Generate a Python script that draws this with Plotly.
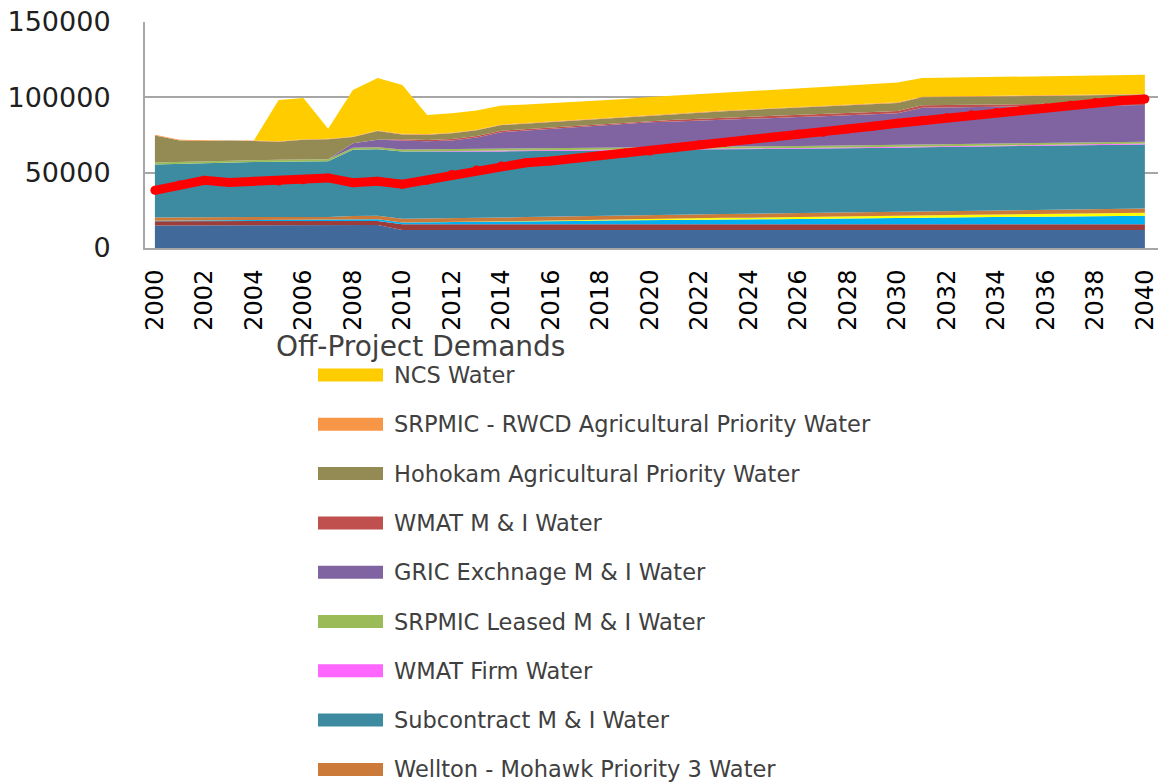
import plotly.graph_objects as go

# Calendar years on the category axis
years = list(range(2000, 2041))

# Off-project demand components (acre-feet), listed bottom of the stack first
other_a = [15000, 15000, 15000, 15000, 15000, 15000, 15000, 15000, 15100, 15200,
           12000, 12000, 12000, 12000, 12000, 12000, 12000, 12000, 12000, 12000,
           12000, 12000, 12000, 12000, 12000, 12000, 12000, 12000, 12000, 12000,
           12000, 12000, 12000, 12000, 12000, 12000, 12000, 12000, 12000, 12000,
           12000]
other_b = [2800, 2800, 2800, 2800, 2800, 2800, 2800, 2800, 2800, 2800,
           3700, 3700, 3700, 3700, 3700, 3700, 3700, 3700, 3700, 3700,
           3700, 3700, 3700, 3700, 3700, 3700, 3700, 3700, 3700, 3700,
           3700, 3700, 3700, 3700, 3700, 3700, 3700, 3700, 3700, 3700,
           3700]
other_c = [300, 350, 400, 450, 500, 550, 600, 650, 900, 1000,
           1200, 1300, 1400, 1500, 1700, 1900, 2100, 2300, 2500, 2700,
           2900, 3000, 3100, 3200, 3300, 3400, 3500, 3600, 3700, 3800,
           3900, 4300, 4500, 4700, 4900, 5000, 5100, 5200, 5400, 5500,
           5700]
other_d = [0, 0, 0, 0, 0, 0, 0, 0, 0, 0,
           0, 0, 0, 200, 300, 400, 500, 600, 700, 800,
           900, 1000, 1050, 1100, 1150, 1200, 1250, 1300, 1350, 1400,
           1450, 1500, 1550, 1600, 1650, 1700, 1750, 1800, 1850, 1900,
           2000]
wellton_mohawk = [2200, 2200, 2200, 2200, 2200, 2200, 2200, 2200, 2400, 2400,
                  2500, 2500, 2500, 2500, 2500, 2550, 2550, 2550, 2550, 2550,
                  2600, 2600, 2600, 2600, 2600, 2650, 2650, 2650, 2650, 2650,
                  2700, 2700, 2700, 2700, 2700, 2750, 2750, 2750, 2750, 2750,
                  2800]
subcontract = [35200, 35650, 36000, 36250, 36500, 36650, 36800, 36950, 44000, 44100,
               44700, 44400, 44300, 44100, 43900, 43650, 43550, 43350, 43250, 43150,
               43000, 43000, 42950, 42900, 42850, 42750, 42700, 42650, 42700, 42750,
               42750, 42700, 42650, 42600, 42550, 42550, 42600, 42650, 42600, 42650,
               42500]
wmat_firm = [0, 0, 0, 0, 0, 0, 0, 0, 0, 0,
             0, 300, 400, 500, 500, 500, 500, 500, 500, 500,
             600, 600, 600, 600, 600, 600, 600, 600, 600, 600,
             600, 600, 600, 600, 600, 600, 600, 600, 600, 600,
             600]
srpmic_leased = [1300, 1300, 1300, 1300, 1300, 1300, 1300, 1300, 1300, 1300,
                 1300, 1300, 1300, 1300, 1300, 1300, 1300, 1300, 1300, 1300,
                 1300, 1300, 1300, 1300, 1300, 1300, 1300, 1300, 1300, 1300,
                 1300, 1300, 1300, 1300, 1300, 1300, 1300, 1300, 1300, 1300,
                 1300]
gric_exchange = [0, 0, 0, 0, 0, 0, 0, 0, 3000, 5000,
                 6000, 5300, 5800, 7600, 11000, 11900, 12700, 13600, 14400, 15200,
                 16400, 16700, 17300, 17900, 18400, 18600, 19200, 19700, 20100, 20600,
                 21000, 24300, 24300, 24300, 24300, 24300, 24300, 24300, 24300, 24300,
                 24300]
wmat_mi = [0, 0, 0, 0, 0, 0, 0, 0, 0, 0,
           800, 900, 1000, 1000, 1000, 1000, 1000, 1000, 1000, 1000,
           1000, 1200, 1200, 1200, 1200, 1500, 1500, 1500, 1500, 1500,
           1500, 1600, 1600, 1600, 1600, 1600, 1600, 1600, 1600, 1600,
           1600]
hohokam = [17900, 14100, 13400, 13300, 12700, 12000, 13100, 13200, 4100, 5800,
           3200, 3500, 3700, 3700, 3700, 3700, 3700, 3700, 3700, 3700,
           3700, 3900, 4100, 4300, 4500, 4700, 4900, 5100, 5200, 5300,
           5400, 5300, 5300, 5300, 5300, 5300, 5300, 5300, 5300, 5300,
           5300]
srpmic_rwcd = [400, 400, 400, 400, 400, 400, 400, 400, 400, 400,
               400, 400, 400, 400, 400, 400, 400, 400, 400, 400,
               400, 400, 400, 400, 400, 400, 400, 400, 400, 400,
               400, 400, 400, 400, 400, 400, 400, 400, 400, 400,
               400]
ncs = [0, 0, 0, 0, 0, 27300, 27400, 6600, 30900, 34800,
       32400, 12700, 12900, 12700, 12500, 12300, 12200, 12100, 12000, 11900,
       11800, 11800, 11900, 12000, 12100, 12200, 12300, 12500, 12700, 12900,
       13200, 12400, 12400, 12400, 12500, 12500, 12500, 12600, 12600, 12700,
       12800]

# Projected demand line drawn over the stack
projected = [38300, 41800, 44900, 43500, 44300, 44500, 45300, 46500, 43300, 44300,
             42300, 45000, 48800, 51800, 54500, 56600, 57800, 59500, 61300, 63000,
             64300, 66500, 68500, 70000, 71800, 73600, 75600, 76800, 79000, 80800,
             82800, 84600, 86400, 88400, 90000, 91300, 93000, 94800, 96500, 97700,
             98900]

series_names = [
    "Other Off-Project Water A",
    "Other Off-Project Water B",
    "Other Off-Project Water C",
    "Other Off-Project Water D",
    "Wellton - Mohawk Priority 3 Water",
    "Subcontract M & I Water",
    "WMAT Firm Water",
    "SRPMIC Leased M & I Water",
    "GRIC Exchnage M & I Water",
    "WMAT M & I Water",
    "Hohokam Agricultural Priority Water",
    "SRPMIC - RWCD Agricultural Priority Water",
    "NCS Water",
]
series_values = [other_a, other_b, other_c, other_d, wellton_mohawk, subcontract,
                 wmat_firm, srpmic_leased, gric_exchange, wmat_mi, hohokam,
                 srpmic_rwcd, ncs]
series_colors = ["#416A9B", "#9C3D3B", "#00B0F0", "#FFFF00", "#CC7A3A", "#3C8BA1",
                 "#FF66FF", "#9BBB59", "#8064A2", "#C0504D", "#948A54", "#F79646",
                 "#FFCC00"]

fig = go.Figure()
for name, vals, color in zip(series_names, series_values, series_colors):
    fig.add_trace(go.Scatter(
        x=years, y=vals, name=name, stackgroup="demand", mode="lines",
        line=dict(width=0, color=color), fillcolor=color,
    ))

fig.add_trace(go.Scatter(
    x=years, y=projected, name="Projected Off-Project Demand",
    mode="lines+markers", line=dict(color="#FF0000", width=9),
    marker=dict(size=9, color="#FF0000"),
))

# Plot area geometry in pixels
W, H = 1163, 782
L, R, T, B = 145, 5, 22, 534
PW, PH = W - L - R, H - T - B


def px_x(px):
    return (px - L) / PW


def px_y(py):
    return (H - B - py) / PH


legend_font = "'DejaVu Sans', sans-serif"
text_gray = "#404040"

annotations = [dict(
    text="Off-Project Demands", xref="paper", yref="paper",
    x=px_x(274), y=px_y(346), xanchor="left", yanchor="middle",
    showarrow=False, font=dict(family=legend_font, size=28, color=text_gray),
)]
shapes = []
row_gap = 49.3
for i, (name, color) in enumerate(zip(series_names[::-1], series_colors[::-1])):
    cy = 375 + i * row_gap
    if cy + 10 > H:
        break
    shapes.append(dict(
        type="rect", xref="paper", yref="paper",
        x0=px_x(318), x1=px_x(383), y0=px_y(cy - 6.5), y1=px_y(cy + 6.5),
        fillcolor=color, line=dict(width=0), layer="above",
    ))
    annotations.append(dict(
        text=name, xref="paper", yref="paper",
        x=px_x(392), y=px_y(cy), xanchor="left", yanchor="middle",
        showarrow=False, font=dict(family=legend_font, size=22.5, color=text_gray),
    ))

axis_gray = "#A6A6A6"

fig.update_layout(
    width=W, height=H,
    margin=dict(l=L, r=R, t=T, b=B, autoexpand=False),
    paper_bgcolor="white", plot_bgcolor="white",
    showlegend=False,
    annotations=annotations,
    shapes=shapes,
    xaxis=dict(
        range=[1999.6, 2040.53], tickmode="linear", tick0=2000, dtick=2,
        tickangle=-90, showgrid=False, zeroline=False,
        showline=True, linecolor=axis_gray, linewidth=2, ticks="",
        tickfont=dict(family="DejaVu Sans", size=24, color="black"),
        ticklabelstandoff=10,
    ),
    yaxis=dict(
        range=[0, 150000], tickmode="linear", tick0=0, dtick=50000,
        tickformat="d", showgrid=True, gridcolor=axis_gray, gridwidth=1.5,
        zeroline=False, showline=True, linecolor=axis_gray, linewidth=2,
        ticks="", tickfont=dict(family="DejaVu Sans", size=27, color="#202020"),
        ticklabelstandoff=27,
    ),
)

fig.write_html("out.html")
